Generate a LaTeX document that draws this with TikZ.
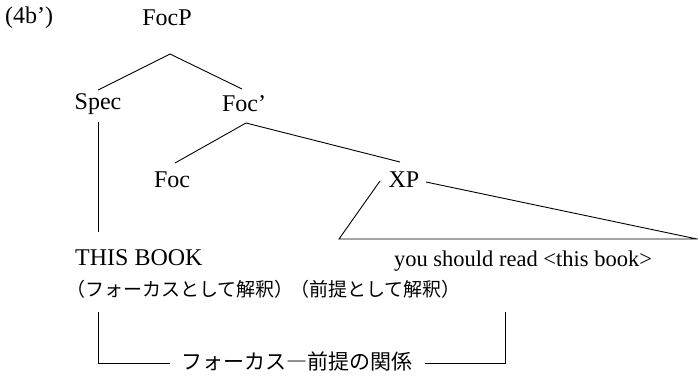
\documentclass[tikz,border=0pt]{standalone}
\usepackage{fontspec}
\setmainfont{Liberation Serif}
\newfontfamily\jpfont{Noto Sans CJK JP}
\begin{document}
\begin{tikzpicture}[x=1pt,y=-1pt,
  lab/.style={inner sep=0pt,font=\fontsize{24}{27}\selectfont},
  small/.style={inner sep=0pt,font=\fontsize{22.5}{25}\selectfont},
  jp/.style={inner sep=0pt,font=\jpfont\fontsize{19}{21}\selectfont},
  jpb/.style={inner sep=0pt,font=\jpfont\fontsize{21}{23}\selectfont},
  ln/.style={draw=black,line width=0.9pt}]
\useasboundingbox (0,0) rectangle (698,378);
\node[lab,anchor=west] (ex) at (5,18) {(4b’)};
\node[lab] (focp) at (167,18) {FocP};
\node[lab] (spec) at (98,104) {Spec};
\node[lab] (focb) at (244,104) {Foc’};
\node[lab] (foc) at (172,180) {Foc};
\node[lab] (xp) at (404,180) {XP};
\node[lab,anchor=west] (tb) at (75,258) {THIS BOOK};
\node[small] (ys) at (523,261) {you should read <this book>};
\node[jp,anchor=west] (j1) at (66,289) {（フォーカスとして解釈）};
\node[jp,anchor=west] (j2) at (290,289) {（前提として解釈）};
\node[jpb,anchor=west] (rel) at (181,361) {フォーカス―前提の関係};
\coordinate (a1) at (170,54);
\coordinate (s1) at (98,90);
\coordinate (f1) at (242,89);
\coordinate (a2) at (246,123);
\coordinate (c2) at (175,163);
\coordinate (x2) at (400,162);
\coordinate (xl) at (380,181);
\coordinate (xr) at (426,182);
\coordinate (bl) at (339,239);
\coordinate (br) at (697,239);
\coordinate (sv) at (98,122);
\coordinate (sb) at (98,232);
\coordinate (l1) at (98,312);
\coordinate (l2) at (98,363);
\coordinate (l3) at (170,363);
\coordinate (r3) at (425,363);
\coordinate (r1) at (505,312);
\coordinate (r2) at (505,363);
\draw[ln] (s1) -- (a1) -- (f1);
\draw[ln] (c2) -- (a2) -- (x2);
\draw[ln] (xl) -- (bl) -- (br) -- (xr);
\draw[ln] (sv) -- (sb);
\draw[ln] (l1) -- (l2) -- (l3);
\draw[ln] (r3) -- (r2) -- (r1);
\end{tikzpicture}
\end{document}
